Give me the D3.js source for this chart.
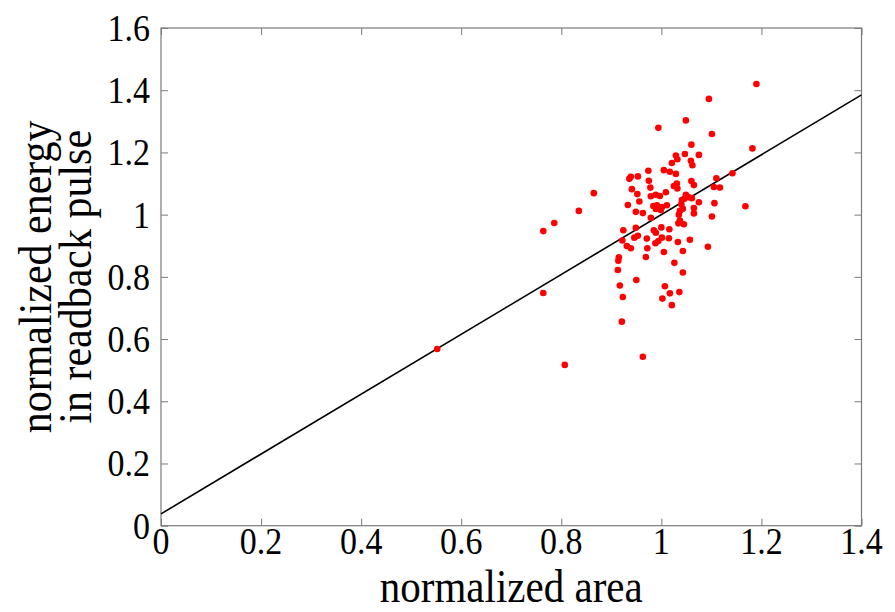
<!DOCTYPE html>
<html><head><meta charset="utf-8">
<script src="https://cdn.jsdelivr.net/npm/d3@7/dist/d3.min.js"></script>
<style>body{margin:0;background:#fff}svg{display:block}</style>
</head><body>
<svg id="c" width="895" height="612"></svg>
<script>
const areaX = [0.552,0.807,0.764,0.764,0.786,0.835,0.865,0.963,0.921,0.923,0.917,0.913,0.914,0.915,0.922,0.924,0.931,0.939,0.946,0.953,0.950,0.933,0.949,0.941,0.952,0.936,0.939,0.953,0.956,0.963,0.974,0.975,0.978,0.979,0.989,0.997,1.009,0.984,0.991,1.001,1.011,0.989,0.999,0.979,0.994,1.049,1.095,1.190,1.101,1.060,1.182,1.029,1.047,1.075,1.032,1.021,1.059,1.062,1.005,1.017,1.029,1.060,1.031,1.065,1.025,1.110,1.142,1.032,1.105,1.117,1.049,1.046,1.055,1.041,1.061,1.075,1.040,1.043,1.106,1.168,1.065,1.037,1.065,1.035,1.101,1.034,1.045,1.037,1.000,1.016,0.989,0.985,0.971,1.001,1.015,0.994,0.988,1.033,1.057,0.972,1.093,1.005,1.043,0.969,1.026,1.043,1.007,1.017,1.036,1.002,1.021,0.949];
const energyY = [0.568,0.517,0.748,0.947,0.973,1.012,1.069,0.543,0.656,0.735,0.772,0.822,0.852,0.863,0.917,0.950,0.899,0.892,0.926,0.932,0.790,1.031,1.009,1.082,1.066,1.115,1.122,1.123,1.042,1.005,1.141,1.109,1.087,1.059,1.064,1.060,1.072,1.028,1.030,1.024,1.030,1.018,1.015,0.990,1.279,1.303,1.372,1.420,1.259,1.225,1.213,1.190,1.195,1.192,1.178,1.166,1.173,1.159,1.143,1.138,1.131,1.108,1.100,1.095,1.092,1.117,1.133,1.084,1.089,1.087,1.064,1.051,1.056,1.047,1.053,1.040,1.033,1.019,1.037,1.027,1.021,1.012,1.004,1.000,0.994,0.972,0.969,0.981,0.959,0.953,0.942,0.950,0.923,0.926,0.924,0.915,0.908,0.912,0.919,0.892,0.897,0.880,0.883,0.864,0.845,0.814,0.770,0.747,0.751,0.730,0.709,0.958];
const fitLineX = [0, 1.4];
const fitLineY = [0.038, 1.385];
const xTicks = [0,0.2,0.4,0.6,0.8,1,1.2,1.4];
const yTicks = [0,0.2,0.4,0.6,0.8,1,1.2,1.4,1.6];
const xTitle = "normalized area";
const yTitleLines = ["normalized energy","in readback pulse"];

const svg = d3.select("#c");
const L=161, R=861.5, T=28, B=525.7;
const x = d3.scaleLinear().domain([0,1.4]).range([L,R]);
const y = d3.scaleLinear().domain([0,1.6]).range([B,T]);
const font = "'Liberation Serif','Times New Roman',serif";
const frame = "#7a7a7a";
const tl = 7;
const fmt = d=>d3.format("~g")(d);
const tickStretch = 1.12, titleStretch = 1.12;

// ticks inward on all sides (labels drawn separately)
const axB = d3.axisBottom(x).tickValues(xTicks).tickSize(-tl).tickFormat("");
const axT = d3.axisTop(x).tickValues(xTicks).tickSize(-tl).tickFormat("");
const axL = d3.axisLeft(y).tickValues(yTicks).tickSize(-tl).tickFormat("");
const axR = d3.axisRight(y).tickValues(yTicks).tickSize(-tl).tickFormat("");
function style(g){
  g.select(".domain").remove();
  g.selectAll(".tick line").attr("stroke",frame).attr("stroke-width",1);
}
svg.append("g").attr("transform",`translate(0,${B})`).call(axB).call(style);
svg.append("g").attr("transform",`translate(0,${T})`).call(axT).call(style);
svg.append("g").attr("transform",`translate(${L},0)`).call(axL).call(style);
svg.append("g").attr("transform",`translate(${R},0)`).call(axR).call(style);
svg.append("rect").attr("x",L).attr("y",T).attr("width",R-L).attr("height",B-T)
  .attr("fill","none").attr("stroke",frame).attr("stroke-width",1.2);

// tick labels
svg.append("g").selectAll("text").data(xTicks).join("text")
  .attr("transform",d=>`translate(${x(d)},554) scale(1,${tickStretch})`)
  .attr("text-anchor","middle").attr("font-family",font).attr("font-size",34).text(fmt);
svg.append("g").selectAll("text").data(yTicks).join("text")
  .attr("transform",d=>`translate(150,${y(d)+13}) scale(1,${tickStretch})`)
  .attr("text-anchor","end").attr("font-family",font).attr("font-size",34).text(fmt);

// fit line
svg.append("path").datum(fitLineX.map((v,i)=>[v,fitLineY[i]]))
  .attr("d",d3.line().x(d=>x(d[0])).y(d=>y(d[1])))
  .attr("stroke","#000").attr("stroke-width",1.6).attr("fill","none");

// points
svg.append("g").selectAll("circle").data(areaX.map((v,i)=>[v,energyY[i]])).join("circle")
  .attr("cx",d=>x(d[0])).attr("cy",d=>y(d[1])).attr("r",3.3).attr("fill","#ff0000");

// titles
svg.append("text").attr("transform",`translate(${(L+R)/2},601.5) scale(1,${titleStretch})`)
  .attr("text-anchor","middle").attr("font-family",font).attr("font-size",41).text(xTitle);
const yt = svg.append("text").attr("transform",`translate(0,${(T+B)/2}) rotate(-90) scale(1,${titleStretch})`)
  .attr("text-anchor","middle").attr("font-family",font).attr("font-size",42);
yt.selectAll("tspan").data(yTitleLines).join("tspan")
  .attr("x",0).attr("y",(d,i)=>[51/titleStretch,91/titleStretch][i]).text(d=>d);
</script>
</body></html>
